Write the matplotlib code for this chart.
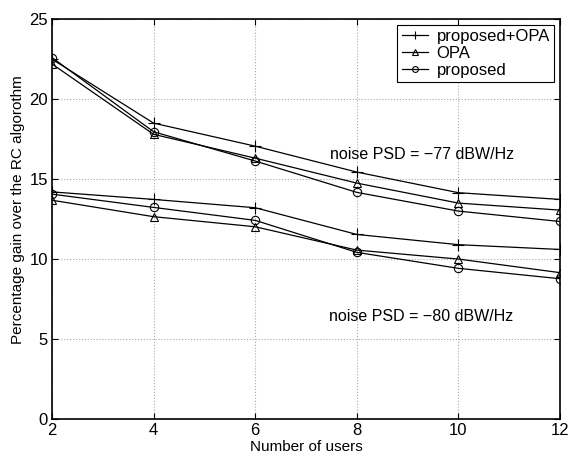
import matplotlib
matplotlib.use('Agg')
import matplotlib.pyplot as plt

plt.rcParams['font.family'] = ['Liberation Sans', 'DejaVu Sans']

users = [2, 4, 6, 8, 10, 12]

# noise PSD = -77 dBW/Hz
prop_opa_77 = [22.5, 18.5, 17.06, 15.44, 14.15, 13.73]
opa_77 = [22.2, 17.8, 16.31, 14.75, 13.5, 13.06]
prop_77 = [22.6, 17.96, 16.13, 14.17, 13.0, 12.35]

# noise PSD = -80 dBW/Hz
prop_opa_80 = [14.2, 13.73, 13.21, 11.54, 10.9, 10.6]
opa_80 = [13.68, 12.65, 12.02, 10.56, 10.0, 9.15]
prop_80 = [14.06, 13.23, 12.42, 10.42, 9.42, 8.77]

fig = plt.figure(figsize=(5.69, 4.57), dpi=100)
ax = fig.add_axes([0.0914, 0.0832, 0.8928, 0.8748])

line_kw = dict(color='black', linewidth=0.9, markerfacecolor='none',
               markeredgecolor='black', markeredgewidth=0.8)
ax.plot(users, prop_opa_77, marker='+', markersize=8, label='proposed+OPA', **line_kw)
ax.plot(users, opa_77, marker='^', markersize=6, label='OPA', **line_kw)
ax.plot(users, prop_77, marker='o', markersize=6, label='proposed', **line_kw)
ax.plot(users, prop_opa_80, marker='+', markersize=8, **line_kw)
ax.plot(users, opa_80, marker='^', markersize=6, **line_kw)
ax.plot(users, prop_80, marker='o', markersize=6, **line_kw)

ax.set_xlim(2, 12)
ax.set_ylim(0, 25)
ax.set_xticks(users)
ax.set_yticks([0, 5, 10, 15, 20, 25])
ax.tick_params(direction='in', top=True, right=True, labelsize=12, length=4, pad=3)
ax.grid(True, linestyle=':', color='#aaaaaa', linewidth=0.8)
for s in ax.spines.values():
    s.set_linewidth(1.2)

ax.set_xlabel('Number of users', fontsize=11, labelpad=1)
ax.set_ylabel('Percentage gain over the RC algorothm', fontsize=11)
ax.yaxis.set_label_coords(-0.053, 0.524)

ax.text(7.47, 16.56, 'noise PSD = \u221277 dBW/Hz', fontsize=11.5, va='center')
ax.text(7.45, 6.4, 'noise PSD = \u221280 dBW/Hz', fontsize=11.5, va='center')

leg = ax.legend(loc='upper right', fontsize=12, frameon=True, fancybox=False,
                edgecolor='black', framealpha=1, borderaxespad=0.35,
                handlelength=1.6, handletextpad=0.5, labelspacing=0.1,
                borderpad=0.25, markerscale=0.7)
leg.get_frame().set_linewidth(0.8)

fig.savefig('out.png', dpi=100)
